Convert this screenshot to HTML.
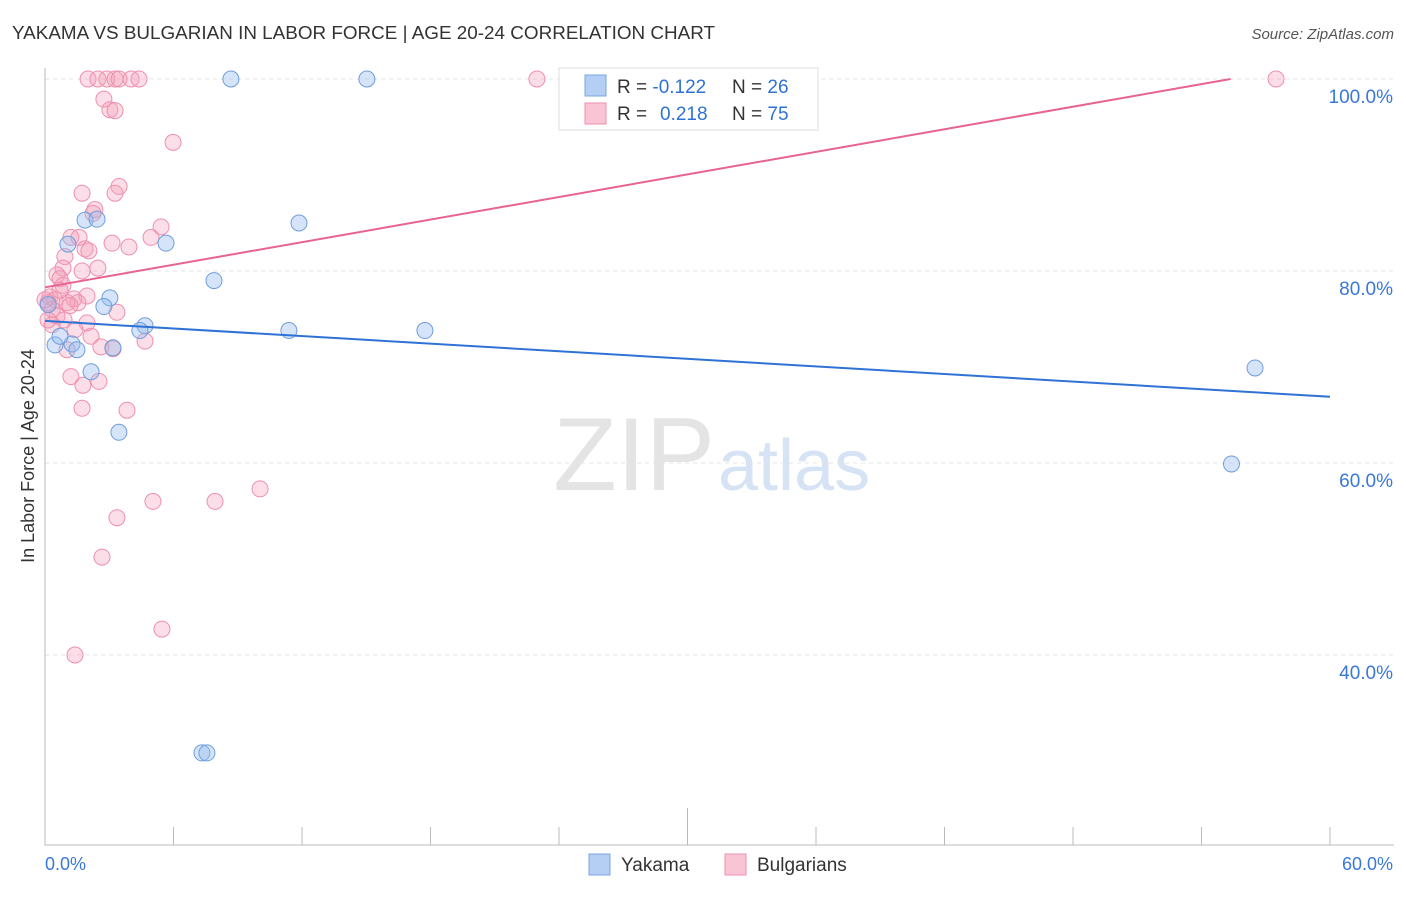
<!DOCTYPE html>
<html><head><meta charset="utf-8"><style>
body{margin:0;background:#fff;font-family:"Liberation Sans",sans-serif;}
svg text{font-family:"Liberation Sans",sans-serif;}
</style></head><body>
<svg id="chart" width="1406" height="892" viewBox="0 0 1406 892">
<text x="12" y="39" font-size="18" fill="#333" textLength="703" lengthAdjust="spacingAndGlyphs">YAKAMA VS BULGARIAN IN LABOR FORCE | AGE 20-24 CORRELATION CHART</text>
<text x="1394" y="39" font-size="15" fill="#555" font-style="italic" text-anchor="end">Source: ZipAtlas.com</text>
<text x="715" y="490" font-size="104" fill="#e4e4e4" font-family="Liberation Serif" text-anchor="end">ZIP</text>
<text x="718" y="490" font-size="72" fill="#d6e3f5">atlas</text>
<g id="grid"></g>
<g id="axes"></g>
<g id="marks"></g>
<text transform="translate(34,456) rotate(-90)" font-size="18" fill="#333" text-anchor="middle">In Labor Force | Age 20-24</text>
<g>
<rect x="559" y="68" width="259" height="62" fill="#fff" stroke="#ddd"/>
<rect x="585" y="75" width="21" height="21" fill="#b4cff3" stroke="#7aa6e0"/>
<rect x="585" y="103" width="21" height="21" fill="#f9c4d4" stroke="#ef8fae"/>
<text x="617" y="93" font-size="19" fill="#333">R = <tspan fill="#2f72d6">-0.122</tspan></text>
<text x="732" y="93" font-size="19" fill="#333">N = <tspan fill="#2f72d6">26</tspan></text>
<text x="617" y="120" font-size="19" fill="#333">R = <tspan x="660" fill="#2f72d6">0.218</tspan></text>
<text x="732" y="120" font-size="19" fill="#333">N = <tspan fill="#2f72d6">75</tspan></text>
</g>
<g>
<rect x="589" y="854" width="21" height="21" fill="#b4cff3" stroke="#7aa6e0"/>
<text x="621" y="871" font-size="19" fill="#333">Yakama</text>
<rect x="725" y="854" width="21" height="21" fill="#f9c4d4" stroke="#ef8fae"/>
<text x="757" y="871" font-size="19" fill="#333">Bulgarians</text>
</g>
</svg>
<script>
const yTicks=[100,80,60,40];
const yTickLabels=["100.0%","80.0%","60.0%","40.0%"];
const xTickLabels=["0.0%","60.0%"];
const yakamaX=[8.68,15.03,1.87,2.43,11.86,1.07,5.65,7.89,3.03,2.75,4.67,4.43,11.39,17.74,0.47,1.26,1.49,3.17,2.15,3.45,56.5,55.4,7.33,7.56,0.7,0.15];
const yakamaY=[100,100,85.3,85.4,85.0,82.8,82.9,79.0,77.2,76.3,74.3,73.8,73.8,73.8,72.3,72.4,71.8,72.0,69.5,63.2,69.9,59.9,29.8,29.8,73.2,76.5];
const bulgPx=[[88,79],[98,79],[107,79],[115,79],[119,79],[131,79],[139,79],[537,79],[1276,79],[104,99],[110,110],[115,111],[173,142],[82,193],[119,187],[115,193],[95,210],[93,213],[161,227],[151,237],[71,237],[79,237],[112,243],[129,247],[85,249],[89,251],[65,257],[98,268],[63,268],[82,271],[57,275],[60,279],[63,285],[87,296],[50,297],[55,300],[74,299],[78,303],[67,303],[70,306],[48,303],[117,312],[57,316],[64,320],[87,323],[52,325],[75,330],[91,336],[145,341],[101,347],[113,349],[67,350],[71,377],[99,381],[83,385],[82,408],[127,410],[153,501],[215,501],[260,489],[117,518],[102,557],[162,629],[75,655],[52,309],[48,320],[60,290],[45,300]];
const bulgX=bulgPx.map(p=>+((p[0]-45)/21.417).toFixed(2));
const bulgY=bulgPx.map(p=>+(100-(p[1]-79)/9.6).toFixed(1));
const yakTrend=[74.8,66.9];
const bulgTrend=[78.3,0.392];

const NS="http://www.w3.org/2000/svg";
const X=v=>45+v*1285/60;
const Y=v=>79+(100-v)*9.6;
function mk(tag,attrs,parent){const e=document.createElementNS(NS,tag);for(const k in attrs)e.setAttribute(k,attrs[k]);document.getElementById(parent).appendChild(e);return e;}
yTicks.forEach((t,i)=>{
 const l=mk('line',{x1:45,x2:1394,y1:Y(t),y2:Y(t),stroke:'#e4e4e4','stroke-dasharray':'4,4'},'grid');
 
 
 const tx=mk('text',{x:1393,y:Y(t)+24,'font-size':19,fill:'#3a78d8','text-anchor':'end'},'grid');tx.textContent=yTickLabels[i];
 
 
});
const ax=mk('path',{d:'M45 68V845H1394',stroke:'#bbb',fill:'none'},'axes');


for(let i=0;i<=10;i++){const x=X(i*6);const t=mk('line',{x1:x,x2:x,y1:845,y2:i==5?808:827,stroke:'#bbb'},'axes');
 
 }
[[0,'start',45],[60,'end',1393]].forEach((d,i)=>{const t=mk('text',{x:d[2],y:870,'font-size':18,fill:'#3a78d8','text-anchor':d[1]},'axes');t.textContent=xTickLabels[i];
 
 });
bulgX.forEach((x,i)=>{const c=mk('circle',{cx:X(x),cy:Y(bulgY[i]),r:8,fill:'rgba(244,160,186,0.35)',stroke:'#ef8fae','stroke-width':1},'marks');
 
 });
yakamaX.forEach((x,i)=>{const c=mk('circle',{cx:X(x),cy:Y(yakamaY[i]),r:8,fill:'rgba(150,188,238,0.4)',stroke:'#6f9edd','stroke-width':1},'marks');
 
 });
const l1=mk('line',{x1:X(0),y1:Y(yakTrend[0]),x2:X(60),y2:Y(yakTrend[1]),stroke:'#2f72d6','stroke-width':2},'marks');


const xEnd=Math.min(60,(100-bulgTrend[0])/bulgTrend[1]);
const l2=mk('line',{x1:X(0),y1:Y(bulgTrend[0]),x2:X(xEnd),y2:Y(bulgTrend[0]+bulgTrend[1]*xEnd),stroke:'#e8638f','stroke-width':2},'marks');


</script>
</body></html>
